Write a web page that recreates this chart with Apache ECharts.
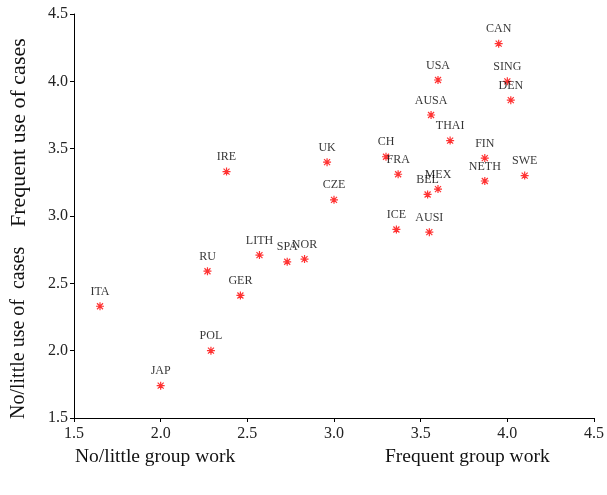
<!DOCTYPE html>
<html>
<head>
<meta charset="utf-8">
<script src="https://cdn.jsdelivr.net/npm/echarts@6/dist/echarts.min.js"></script>
<style>
  html, body { margin: 0; padding: 0; background: #fff; }
  #main { width: 607px; height: 495px; }
</style>
</head>
<body>
<div id="main"></div>
<script>
// countries and their scores (x = group work, y = use of cases)
var countries = ['CAN', 'USA', 'SING', 'DEN', 'AUSA', 'THAI', 'CH', 'FIN', 'FRA', 'SWE',
  'NETH', 'MEX', 'BEL', 'ICE', 'AUSI', 'IRE', 'UK', 'CZE', 'LITH', 'SPA',
  'NOR', 'RU', 'GER', 'ITA', 'POL', 'JAP'];
var groupWork = [3.95, 3.60, 4.00, 4.02, 3.56, 3.67, 3.30, 3.87, 3.37, 4.10,
  3.87, 3.60, 3.54, 3.36, 3.55, 2.38, 2.96, 3.00, 2.57, 2.73,
  2.83, 2.27, 2.46, 1.65, 2.29, 2.00];
var useOfCases = [4.28, 4.01, 4.00, 3.86, 3.75, 3.56, 3.44, 3.43, 3.31, 3.30,
  3.26, 3.20, 3.16, 2.90, 2.88, 3.33, 3.40, 3.12, 2.71, 2.66,
  2.68, 2.59, 2.41, 2.33, 2.00, 1.74];

var serif = '"Liberation Serif", "DejaVu Serif", serif';

var points = countries.map(function (c, i) {
  return { name: c, value: [groupWork[i], useOfCases[i]] };
});

var chart = echarts.init(document.getElementById('main'), null, { renderer: 'canvas' });

var option = {
  animation: false,
  grid: { left: 74, right: 10, top: 14, bottom: 77 },
  xAxis: {
    type: 'value',
    min: 1.5,
    max: 4.5,
    interval: 0.5,
    splitLine: { show: false },
    axisLine: { lineStyle: { color: '#000', width: 1 } },
    axisTick: { length: 4, lineStyle: { color: '#000' } },
    axisLabel: {
      color: '#222', fontFamily: serif, fontSize: 16, margin: 8,
      formatter: function (v) { return v.toFixed(1); }
    }
  },
  yAxis: {
    type: 'value',
    min: 1.5,
    max: 4.5,
    interval: 0.5,
    splitLine: { show: false },
    axisLine: { show: true, lineStyle: { color: '#000', width: 1 } },
    axisTick: { show: true, length: 4, lineStyle: { color: '#000' } },
    axisLabel: {
      color: '#222', fontFamily: serif, fontSize: 16, margin: 6,
      formatter: function (v) { return v.toFixed(1); }
    }
  },
  graphic: [
    { type: 'text', left: 75, top: 447, style: { text: 'No/little group work', font: '19.5px ' + serif, fill: '#111' } },
    { type: 'text', left: 385, top: 447, style: { text: 'Frequent group work', font: '19.5px ' + serif, fill: '#111' } },
    { type: 'text', x: 8, y: 227, rotation: Math.PI / 2, style: { text: 'Frequent use of cases', font: '22px ' + serif, fill: '#111' } },
    { type: 'text', x: 9, y: 419, rotation: Math.PI / 2, style: { text: 'No/little use of  cases', font: '20px ' + serif, fill: '#111' } }
  ],
  series: [
    {
      type: 'scatter',
      data: points,
      symbol: 'path://M0,-4L0,4M-4,0L4,0M-3,-3L3,3M-3,3L3,-3',
      symbolSize: 8,
      itemStyle: { color: 'none', borderColor: '#ff0000', borderWidth: 1.2 },
      label: {
        show: true,
        position: 'top',
        distance: 2,
        formatter: '{b}',
        color: '#000',
        fontFamily: serif,
        fontSize: 12
      }
    }
  ]
};

chart.setOption(option);
</script>
</body>
</html>
